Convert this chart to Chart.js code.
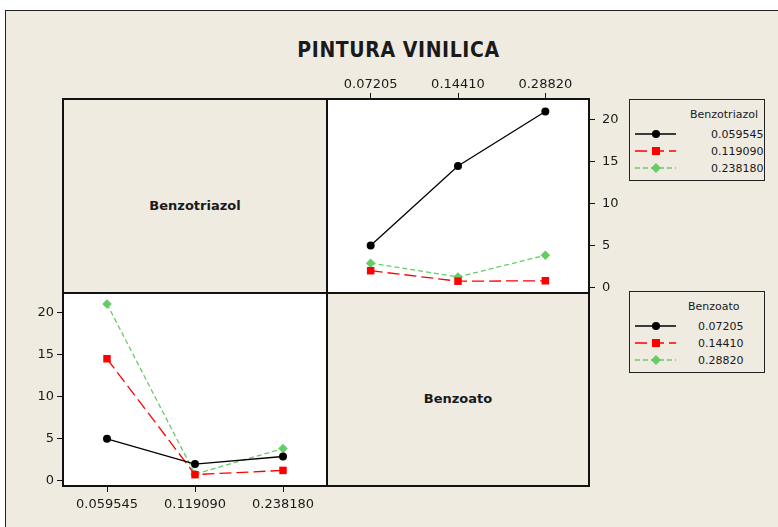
<!DOCTYPE html>
<html>
<head>
<meta charset="utf-8">
<script src="https://cdn.jsdelivr.net/npm/chart.js@4/dist/chart.umd.min.js"></script>
<style>
    body { margin: 0; width: 778px; height: 527px; background: #fff; position: relative; overflow: hidden; font-family: "DejaVu Sans", sans-serif; color: #1a1a1a; }
    .abs { position: absolute; }
    #page { left: 5px; top: 10px; width: 800px; height: 600px; background: #efebe1; border-left: 1px solid #222; border-top: 1px solid #222; }
    .panel { background: #fff; }
    .ln { background: #111; }
    #title { left: 0; width: 797px; top: 38px; text-align: center; font-family: "Liberation Sans Narrow", "DejaVu Sans Condensed", sans-serif; font-weight: bold; font-size: 21px; letter-spacing: 0.6px; }
    .plabel { font-weight: bold; font-size: 13px; white-space: nowrap; transform: translate(-50%, -50%); }
    .legend { border: 1px solid #222; box-sizing: border-box; font-size: 11px; }
    .legend span { position: absolute; white-space: nowrap; transform: translateY(-50%); }
    .legend svg { position: absolute; }
    canvas { position: absolute; }
</style>
</head>
<body>
<div id="page" class="abs"></div>
<div id="title" class="abs">PINTURA VINILICA</div>

<div class="abs panel" style="left:327px; top:99px; width:262px; height:194px;"></div>
<div class="abs panel" style="left:63px; top:293px; width:264px; height:193px;"></div>

<div class="abs plabel" style="left:195px; top:205px;">Benzotriazol</div>
<div class="abs plabel" style="left:458px; top:398px;">Benzoato</div>

<canvas id="chartTop" width="322" height="244" style="left:307px; top:69px;"></canvas>
<canvas id="chartBottom" width="324" height="243" style="left:23px; top:273px;"></canvas>

<div id="frame"></div>
<div id="legends"></div>

<script>
    // factor levels
    const benzotriazolLevels = ['0.059545', '0.119090', '0.238180'];
    const benzoatoLevels = ['0.07205', '0.14410', '0.28820'];

    // mean response for each Benzotriazol level, across the Benzoato levels
    const btz059545 = [5.0, 14.5, 21.0];
    const btz119090 = [2.0, 0.75, 0.8];
    const btz238180 = [2.9, 1.25, 3.85];

    const yTicks = [0, 5, 10, 15, 20];

    const seriesStyles = [
        { color: '#000000', point: 'circle', radius: 4, dash: [] },
        { color: '#ff0000', point: 'rect', radius: 5.3, dash: [12, 5] },
        { color: '#66cc66', point: 'rectRot', radius: 4.8, dash: [5, 3] },
    ];

    const byBenzotriazol = [btz059545, btz119090, btz238180];
    // transpose -> mean response for each Benzoato level, across the Benzotriazol levels
    const byBenzoato = benzoatoLevels.map((_, j) => byBenzotriazol.map(row => row[j]));

    function makeDatasets(rows) {
        return rows.map((vals, i) => ({
            data: vals.map((v, k) => ({ x: k, y: v })),
            borderColor: seriesStyles[i].color,
            backgroundColor: seriesStyles[i].color,
            borderWidth: 1.3,
            borderDash: seriesStyles[i].dash,
            pointStyle: seriesStyles[i].point,
            pointRadius: seriesStyles[i].radius,
            pointBorderWidth: 0,
            tension: 0,
            clip: false,
        }));
    }

    function makeScales(xLabels, xPos, yPos, yMin, yMax) {
        const tickFont = { family: 'DejaVu Sans', size: 13 };
        return {
            x: {
                type: 'linear',
                position: xPos,
                min: -0.5,
                max: 2.5,
                afterBuildTicks: s => { s.ticks = [0, 1, 2].map(v => ({ value: v })); },
                afterFit: s => { s.height = 30; },
                ticks: { callback: v => xLabels[v], font: tickFont, color: '#1a1a1a', padding: xPos === 'top' ? 1 : 5, maxRotation: 0 },
                grid: { drawOnChartArea: false, drawTicks: true, tickLength: 6, color: '#111', lineWidth: 1 },
                border: { display: false },
            },
            y: {
                type: 'linear',
                position: yPos,
                min: yMin,
                max: yMax,
                afterBuildTicks: s => { s.ticks = yTicks.map(v => ({ value: v })); },
                afterFit: s => { s.width = 40; },
                ticks: { font: tickFont, color: '#1a1a1a', padding: yPos === 'right' ? 7 : 3 },
                grid: { drawOnChartArea: false, drawTicks: true, tickLength: 6, color: '#111', lineWidth: 1 },
                border: { display: false },
            },
        };
    }

    const commonOptions = {
        responsive: false,
        animation: false,
        devicePixelRatio: 1,
        plugins: { legend: { display: false }, tooltip: { enabled: false }, title: { display: false } },
    };

    new Chart(document.getElementById('chartTop').getContext('2d'), {
        type: 'line',
        data: { datasets: makeDatasets(byBenzotriazol) },
        options: {
            ...commonOptions,
            layout: { padding: { left: 20, bottom: 20, top: 0, right: 0 } },
            scales: makeScales(benzoatoLevels, 'top', 'right', -0.66, 22.5),
        },
    });

    new Chart(document.getElementById('chartBottom').getContext('2d'), {
        type: 'line',
        data: { datasets: makeDatasets(byBenzoato) },
        options: {
            ...commonOptions,
            layout: { padding: { left: 0, bottom: 0, top: 20, right: 20 } },
            scales: makeScales(benzotriazolLevels, 'bottom', 'left', -0.6, 22.3),
        },
    });

    // matrix frame lines
    const frame = document.getElementById('frame');
    const lines = [
        [62, 98, 528, 2], [62, 292, 528, 2], [62, 485, 528, 2],
        [62, 98, 2, 389], [326, 98, 2, 389], [588, 98, 2, 389],
    ];
    lines.forEach(([l, t, w, h]) => {
        const d = document.createElement('div');
        d.className = 'abs ln';
        d.style.cssText = `left:${l}px;top:${t}px;width:${w}px;height:${h}px;`;
        frame.appendChild(d);
    });

    // legends
    function keySvg(style) {
        const c = style.color;
        const dash = style.dash.length ? `stroke-dasharray="${style.dash.join(',')}"` : '';
        let marker;
        if (style.point === 'circle') marker = `<circle cx="21" cy="6" r="4" fill="${c}"/>`;
        else if (style.point === 'rect') marker = `<rect x="17" y="2" width="8" height="8" fill="${c}"/>`;
        else marker = `<polygon points="21,1 26,6 21,11 16,6" fill="${c}"/>`;
        return `<line x1="0" y1="6" x2="41" y2="6" stroke="${c}" stroke-width="1.3" ${dash}/>` + marker;
    }

    function buildLegend(title, labels, top, titleX, valueX) {
        const box = document.createElement('div');
        box.className = 'abs legend';
        box.style.cssText = `left:629px;top:${top}px;width:136px;height:82px;`;
        let html = `<span style="left:${titleX - 629}px;top:14px;">${title}</span>`;
        labels.forEach((lab, i) => {
            const y = 35 + i * 17;
            html += `<svg width="42" height="12" style="left:5px;top:${y - 7}px;">${keySvg(seriesStyles[i])}</svg>`;
            html += `<span style="left:${valueX - 629}px;top:${y - 1}px;">${lab}</span>`;
        });
        box.innerHTML = html;
        document.getElementById('legends').appendChild(box);
    }

    buildLegend('Benzotriazol', benzotriazolLevels, 99, 689, 710);
    buildLegend('Benzoato', benzoatoLevels, 291, 687, 697);
</script>
</body>
</html>
